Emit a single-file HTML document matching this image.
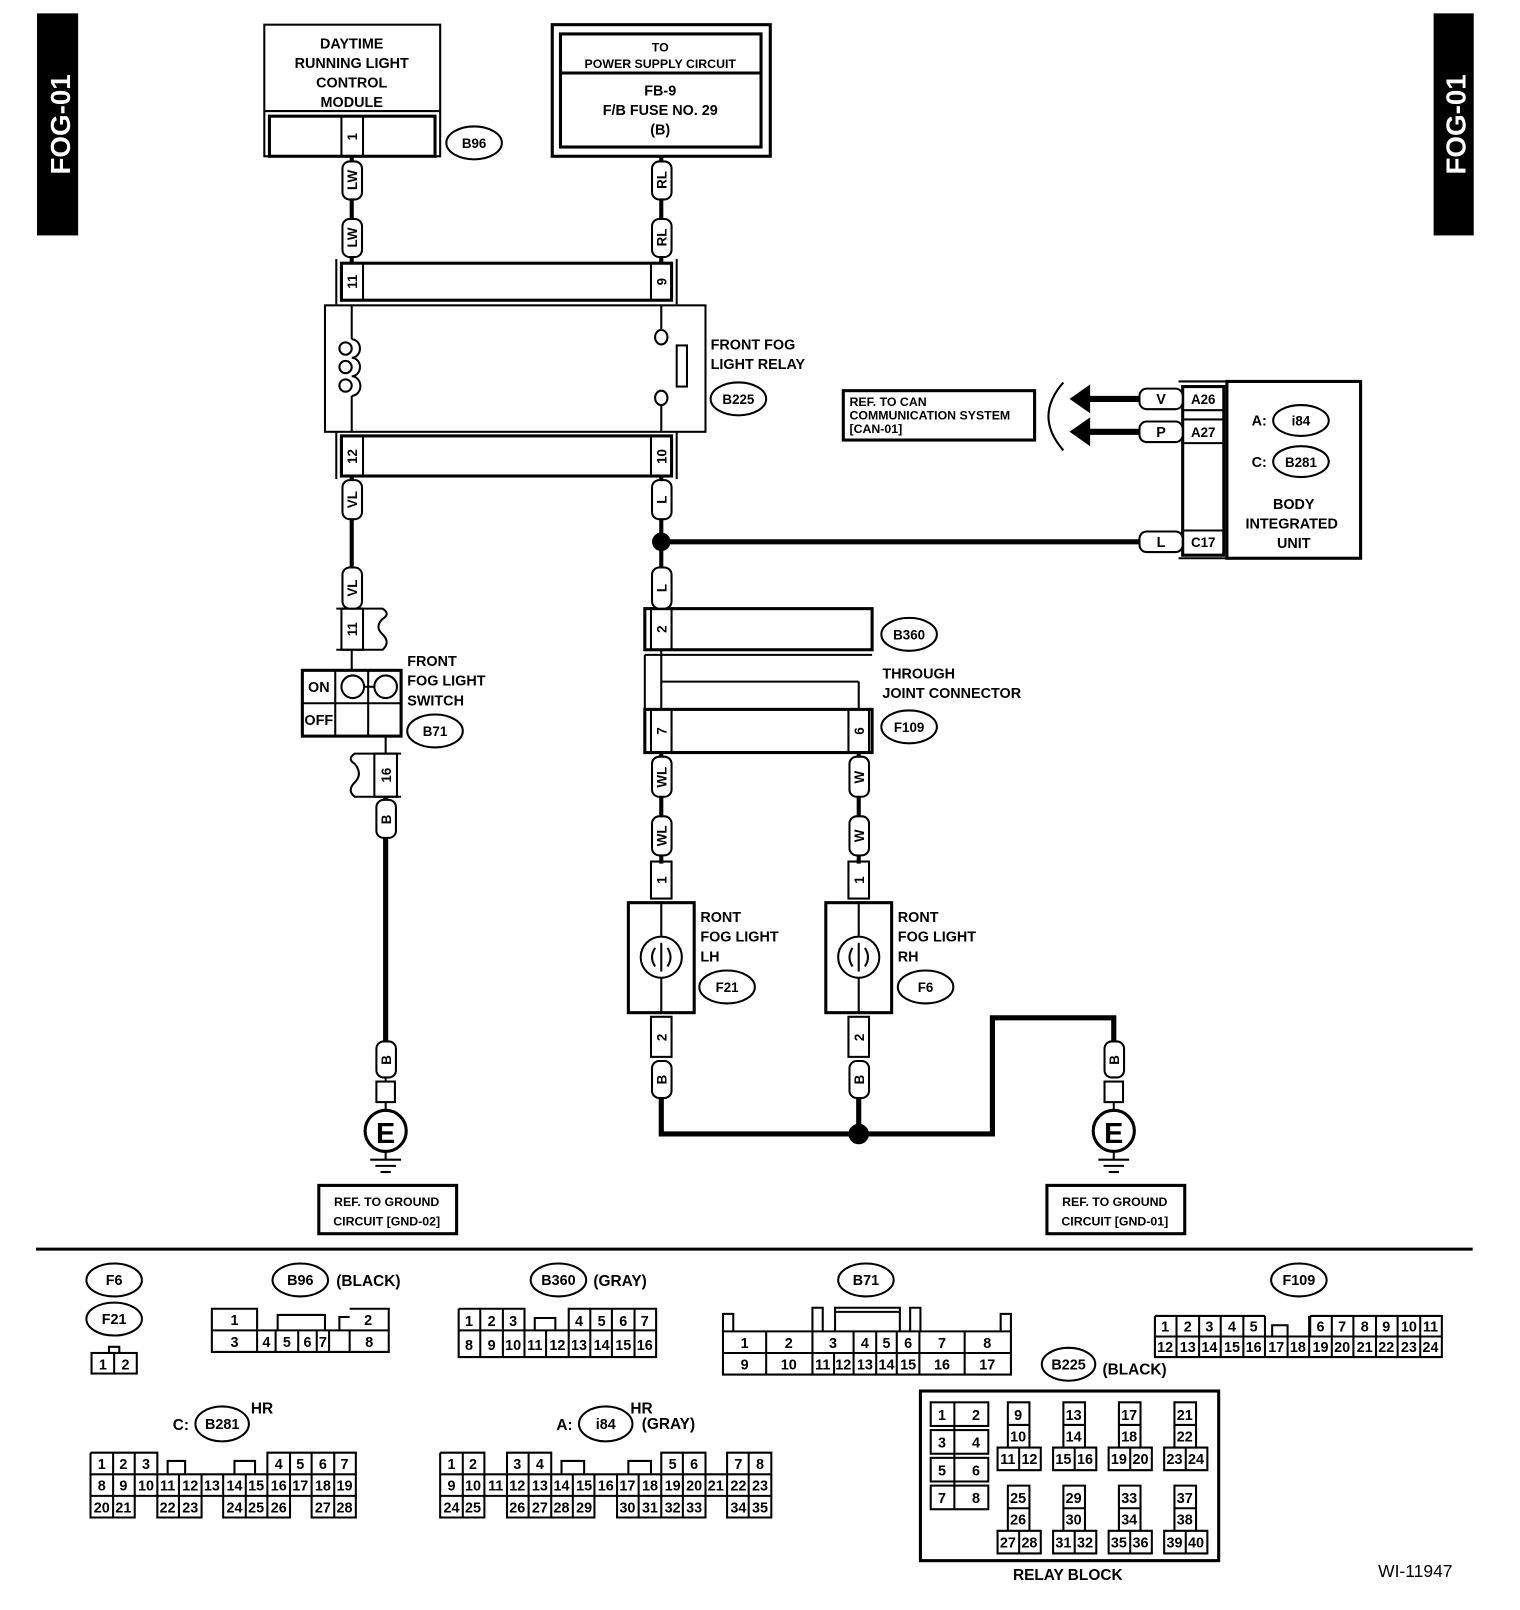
<!DOCTYPE html>
<html><head><meta charset="utf-8"><style>
html,body{margin:0;padding:0;background:#fff}
svg{display:block}
text{font-family:"Liberation Sans",sans-serif;font-weight:bold;fill:#000}
</style></head><body>
<svg width="1520" height="1610" viewBox="0 0 1478 1566" preserveAspectRatio="none" xmlns="http://www.w3.org/2000/svg">
<g fill="none" stroke="#000" stroke-width="2">
<rect x="37" y="14" width="38" height="214" fill="#000"/>
<rect x="1395" y="14" width="37" height="214" fill="#000"/>
</g>
<text transform="rotate(-90 68 121)" x="68" y="121" font-size="27" text-anchor="middle" style="fill:#fff">FOG-01</text>
<text transform="rotate(-90 1425 121)" x="1425" y="121" font-size="27" text-anchor="middle" style="fill:#fff">FOG-01</text>

<g fill="none" stroke="#000" stroke-width="2">
<rect x="257" y="24" width="171" height="128"/>
<line x1="257" y1="108" x2="428" y2="108"/>
<rect x="262" y="113" width="161" height="39" stroke-width="3"/>
<line x1="332" y1="113" x2="332" y2="152"/><line x1="353" y1="113" x2="353" y2="152"/>
<ellipse cx="461" cy="139" rx="27" ry="16"/>
<rect x="537" y="24" width="212" height="128" stroke-width="3"/>
<rect x="545" y="33" width="195" height="110" stroke-width="3"/>
<line x1="545" y1="71" x2="740" y2="71" stroke-width="3"/>
<line x1="342" y1="152" x2="342" y2="256" stroke-width="4"/>
<line x1="643" y1="152" x2="643" y2="256" stroke-width="4"/>
<rect x="332" y="256" width="321" height="36" stroke-width="3"/>
<line x1="327" y1="252" x2="327" y2="296"/><line x1="658" y1="252" x2="658" y2="296"/>
<line x1="353" y1="256" x2="353" y2="292"/><line x1="633" y1="256" x2="633" y2="292"/>
<rect x="316" y="297" width="370" height="123"/>
<line x1="342" y1="297" x2="342" y2="330"/><line x1="342" y1="385" x2="342" y2="420"/>
<path d="M342 330 a8 9 0 0 1 0 18 a8 9 0 0 1 0 18 a8 9 0 0 1 0 19"/>
<circle cx="336" cy="339" r="6"/><circle cx="336" cy="357" r="6"/><circle cx="336" cy="375" r="6"/>
<line x1="643" y1="297" x2="643" y2="322"/><line x1="643" y1="393" x2="643" y2="420"/>
<ellipse cx="643" cy="328" rx="6" ry="7"/><ellipse cx="643" cy="387" rx="6" ry="7"/>
<rect x="658" y="336" width="10" height="40"/>
<ellipse cx="718" cy="388" rx="27" ry="16"/>
<rect x="332" y="424" width="321" height="39" stroke-width="3"/>
<line x1="327" y1="420" x2="327" y2="466"/><line x1="658" y1="420" x2="658" y2="466"/>
<line x1="353" y1="424" x2="353" y2="463"/><line x1="633" y1="424" x2="633" y2="463"/>
<line x1="342" y1="463" x2="342" y2="592" stroke-width="4"/>
<line x1="643" y1="463" x2="643" y2="592" stroke-width="4"/>
<line x1="643" y1="527" x2="1110" y2="527" stroke-width="5"/>
</g>
<circle cx="643" cy="527" r="9" fill="#000"/>

<g fill="none" stroke="#000" stroke-width="2">
<rect x="820" y="380" width="186" height="48" stroke-width="3"/>
<path d="M1034 372 Q1005 405 1034 438"/>
<line x1="1055" y1="388" x2="1110" y2="388" stroke-width="6"/>
<line x1="1055" y1="420" x2="1110" y2="420" stroke-width="6"/>
<rect x="1193" y="371" width="130" height="172" stroke-width="3"/>
<rect x="1150" y="376" width="40" height="164" stroke-width="3"/>
<line x1="1146" y1="371" x2="1193" y2="371"/><line x1="1146" y1="543" x2="1193" y2="543"/>
<line x1="1150" y1="399" x2="1190" y2="399"/><line x1="1150" y1="408" x2="1190" y2="408"/>
<line x1="1150" y1="431" x2="1190" y2="431"/><line x1="1150" y1="516" x2="1190" y2="516"/>
<ellipse cx="1265" cy="409" rx="27" ry="15"/>
<ellipse cx="1265" cy="449" rx="27" ry="15"/>
</g>
<polygon points="1040,388 1060,374 1060,402" fill="#000"/>
<polygon points="1040,420 1060,406 1060,434" fill="#000"/>

<g fill="none" stroke="#000" stroke-width="2">
<path d="M327 592 H372 q8 5 0 10 q-8 8 0 15 q8 8 0 15 H327" />
<rect x="332" y="592" width="21" height="40"/>
<line x1="342" y1="632" x2="342" y2="652"/>
<rect x="294" y="652" width="96" height="64" stroke-width="3"/>
<line x1="294" y1="684" x2="390" y2="684"/>
<line x1="326" y1="652" x2="326" y2="716"/><line x1="358" y1="652" x2="358" y2="716"/>
<circle cx="343" cy="668" r="11"/><circle cx="375" cy="668" r="11"/>
<line x1="354" y1="668" x2="364" y2="668"/>
<ellipse cx="423" cy="711" rx="27" ry="16"/>
<path d="M390 733 H345 q-8 5 0 10 q8 10 0 18 q-8 8 0 14 H390"/>
<rect x="364" y="733" width="22" height="42"/>
<line x1="375" y1="716" x2="375" y2="733"/>
<line x1="375" y1="775" x2="375" y2="1013" stroke-width="5"/>
<rect x="366" y="1052" width="18" height="20"/>
<line x1="375" y1="1048" x2="375" y2="1052"/><line x1="375" y1="1072" x2="375" y2="1080"/>
<circle cx="375" cy="1100" r="20" stroke-width="3"/>
<line x1="375" y1="1120" x2="375" y2="1128"/>
<line x1="360" y1="1128" x2="390" y2="1128"/><line x1="365" y1="1134" x2="385" y2="1134"/><line x1="370" y1="1140" x2="380" y2="1140"/>
<rect x="310" y="1153" width="134" height="47" stroke-width="3"/>
<rect x="627" y="592" width="221" height="40" stroke-width="3"/>
<line x1="633" y1="592" x2="633" y2="632"/><line x1="653" y1="592" x2="653" y2="632"/>
<line x1="627" y1="637" x2="848" y2="637"/><line x1="627" y1="637" x2="627" y2="690"/>
<line x1="643" y1="632" x2="643" y2="690"/>
<line x1="643" y1="663" x2="835" y2="663"/><line x1="835" y1="663" x2="835" y2="690"/>
<ellipse cx="884" cy="617" rx="27" ry="16"/>
<rect x="627" y="690" width="221" height="42" stroke-width="3"/>
<line x1="633" y1="690" x2="633" y2="732"/><line x1="653" y1="690" x2="653" y2="732"/>
<line x1="825" y1="690" x2="825" y2="732"/><line x1="845" y1="690" x2="845" y2="732"/>
<ellipse cx="884" cy="707" rx="27" ry="16"/>
<line x1="643" y1="732" x2="643" y2="840" stroke-width="4"/>
<line x1="835" y1="732" x2="835" y2="840" stroke-width="4"/>
<rect x="633" y="838" width="20" height="36"/><rect x="825" y="838" width="20" height="36"/>
<rect x="611" y="878" width="64" height="107" stroke-width="3"/>
<rect x="803" y="878" width="64" height="107" stroke-width="3"/>
<line x1="643" y1="878" x2="643" y2="911"/><line x1="643" y1="951" x2="643" y2="985"/>
<line x1="835" y1="878" x2="835" y2="911"/><line x1="835" y1="951" x2="835" y2="985"/>
<circle cx="643" cy="931" r="20"/><circle cx="835" cy="931" r="20"/>
<path d="M637 922 q-6 9 0 18 M649 922 q6 9 0 18 M643 917 v28"/>
<path d="M829 922 q-6 9 0 18 M841 922 q6 9 0 18 M835 917 v28"/>
<ellipse cx="707" cy="960" rx="27" ry="16"/><ellipse cx="900" cy="960" rx="27" ry="16"/>
<rect x="633" y="989" width="20" height="39"/><rect x="825" y="989" width="20" height="39"/>
<path d="M643 1068 V1103 H965 V990 H1083 V1013" stroke-width="5"/>
<line x1="835" y1="1068" x2="835" y2="1103" stroke-width="5"/>
<rect x="1074" y="1052" width="18" height="20"/>
<line x1="1083" y1="1072" x2="1083" y2="1080"/>
<circle cx="1083" cy="1100" r="20" stroke-width="3"/>
<line x1="1083" y1="1120" x2="1083" y2="1128"/>
<line x1="1068" y1="1128" x2="1098" y2="1128"/><line x1="1073" y1="1134" x2="1093" y2="1134"/><line x1="1078" y1="1140" x2="1088" y2="1140"/>
<rect x="1018" y="1153" width="134" height="47" stroke-width="3"/>
</g>
<circle cx="835" cy="1103" r="10" fill="#000"/>

<g fill="#fff" stroke="#000" stroke-width="2">
<rect x="333" y="157" width="19" height="37" rx="7"/>
<rect x="333" y="213" width="19" height="37" rx="7"/>
<rect x="634" y="157" width="19" height="37" rx="7"/>
<rect x="634" y="213" width="19" height="37" rx="7"/>
<rect x="333" y="467" width="19" height="38" rx="7"/>
<rect x="634" y="467" width="19" height="38" rx="7"/>
<rect x="333" y="552" width="19" height="40" rx="7"/>
<rect x="634" y="552" width="19" height="40" rx="7"/>
<rect x="366" y="778" width="19" height="37" rx="7"/>
<rect x="366" y="1013" width="19" height="35" rx="7"/>
<rect x="634" y="736" width="19" height="39" rx="7"/>
<rect x="826" y="736" width="19" height="39" rx="7"/>
<rect x="634" y="794" width="19" height="38" rx="7"/>
<rect x="826" y="794" width="19" height="38" rx="7"/>
<rect x="634" y="1032" width="19" height="36" rx="7"/>
<rect x="826" y="1032" width="19" height="36" rx="7"/>
<rect x="1074" y="1013" width="19" height="35" rx="7"/>
<rect x="1108" y="378" width="42" height="20" rx="7"/>
<rect x="1108" y="410" width="42" height="20" rx="7"/>
<rect x="1108" y="517" width="42" height="20" rx="7"/>
</g>

<g font-size="14" text-anchor="middle">
<text x="342" y="47">DAYTIME</text>
<text x="342" y="66">RUNNING LIGHT</text>
<text x="342" y="85">CONTROL</text>
<text x="342" y="104">MODULE</text>
<text x="461" y="144" font-size="13">B96</text>
<text x="642" y="50" font-size="12">TO</text>
<text x="642" y="66" font-size="12">POWER SUPPLY CIRCUIT</text>
<text x="642" y="93">FB-9</text>
<text x="642" y="112">F/B FUSE NO. 29</text>
<text x="642" y="131">(B)</text>
<text x="718" y="393" font-size="13">B225</text>
<text x="884" y="622" font-size="13">B360</text>
<text x="884" y="712" font-size="13">F109</text>
<text x="423" y="716" font-size="13">B71</text>
<text x="707" y="965" font-size="13">F21</text>
<text x="900" y="965" font-size="13">F6</text>
<text x="375" y="1112" font-size="28">E</text>
<text x="1083" y="1112" font-size="28">E</text>
<text x="376" y="1173" font-size="12">REF. TO GROUND</text>
<text x="376" y="1192" font-size="12">CIRCUIT [GND-02]</text>
<text x="1084" y="1173" font-size="12">REF. TO GROUND</text>
<text x="1084" y="1192" font-size="12">CIRCUIT [GND-01]</text>
<text x="1129" y="393">V</text><text x="1129" y="425">P</text><text x="1129" y="532">L</text>
<text x="1170" y="393" font-size="13">A26</text><text x="1170" y="425" font-size="13">A27</text><text x="1170" y="532" font-size="13">C17</text>
<text x="1265" y="414" font-size="13">i84</text><text x="1265" y="454" font-size="13">B281</text>
<text x="1258" y="495">BODY</text><text x="1256" y="514">INTEGRATED</text><text x="1258" y="533">UNIT</text>
<text x="310" y="673">ON</text><text x="310" y="705">OFF</text>
</g>
<g font-size="14">
<text x="1217" y="414">A:</text><text x="1217" y="454">C:</text>
<text x="691" y="340">FRONT FOG</text><text x="691" y="359">LIGHT RELAY</text>
<text x="826" y="395" font-size="12">REF. TO CAN</text>
<text x="826" y="408" font-size="12">COMMUNICATION SYSTEM</text>
<text x="826" y="421" font-size="12">[CAN-01]</text>
<text x="396" y="648">FRONT</text><text x="396" y="667">FOG LIGHT</text><text x="396" y="686">SWITCH</text>
<text x="858" y="660">THROUGH</text><text x="858" y="679">JOINT CONNECTOR</text>
<text x="681" y="897">RONT</text><text x="681" y="916">FOG LIGHT</text><text x="681" y="935">LH</text>
<text x="873" y="897">RONT</text><text x="873" y="916">FOG LIGHT</text><text x="873" y="935">RH</text>
</g>
<g font-size="13" text-anchor="middle">
<text transform="rotate(-90 347 175)" x="347" y="175">LW</text>
<text transform="rotate(-90 347 231)" x="347" y="231">LW</text>
<text transform="rotate(-90 648 175)" x="648" y="175">RL</text>
<text transform="rotate(-90 648 231)" x="648" y="231">RL</text>
<text transform="rotate(-90 347 133)" x="347" y="133">1</text>
<text transform="rotate(-90 347 274)" x="347" y="274">11</text>
<text transform="rotate(-90 648 274)" x="648" y="274">9</text>
<text transform="rotate(-90 347 444)" x="347" y="444">12</text>
<text transform="rotate(-90 648 444)" x="648" y="444">10</text>
<text transform="rotate(-90 347 486)" x="347" y="486">VL</text>
<text transform="rotate(-90 648 486)" x="648" y="486">L</text>
<text transform="rotate(-90 347 572)" x="347" y="572">VL</text>
<text transform="rotate(-90 648 572)" x="648" y="572">L</text>
<text transform="rotate(-90 347 612)" x="347" y="612">11</text>
<text transform="rotate(-90 380 754)" x="380" y="754">16</text>
<text transform="rotate(-90 380 797)" x="380" y="797">B</text>
<text transform="rotate(-90 380 1031)" x="380" y="1031">B</text>
<text transform="rotate(-90 648 612)" x="648" y="612">2</text>
<text transform="rotate(-90 648 711)" x="648" y="711">7</text>
<text transform="rotate(-90 840 711)" x="840" y="711">6</text>
<text transform="rotate(-90 648 756)" x="648" y="756">WL</text>
<text transform="rotate(-90 840 756)" x="840" y="756">W</text>
<text transform="rotate(-90 648 813)" x="648" y="813">WL</text>
<text transform="rotate(-90 840 813)" x="840" y="813">W</text>
<text transform="rotate(-90 648 856)" x="648" y="856">1</text>
<text transform="rotate(-90 840 856)" x="840" y="856">1</text>
<text transform="rotate(-90 648 1009)" x="648" y="1009">2</text>
<text transform="rotate(-90 840 1009)" x="840" y="1009">2</text>
<text transform="rotate(-90 648 1050)" x="648" y="1050">B</text>
<text transform="rotate(-90 840 1050)" x="840" y="1050">B</text>
<text transform="rotate(-90 1088 1031)" x="1088" y="1031">B</text>
</g>

<line x1="35" y1="1215" x2="1432" y2="1215" stroke="#000" stroke-width="3"/>

<g fill="none" stroke="#000" stroke-width="2">
<ellipse cx="111" cy="1245" rx="27" ry="16"/><ellipse cx="111" cy="1283" rx="27" ry="16"/>
<rect x="89" y="1316" width="44" height="20"/><line x1="111" y1="1316" x2="111" y2="1336"/><rect x="106" y="1310" width="10" height="6"/>
<ellipse cx="292" cy="1245" rx="27" ry="16"/>
<path d="M206 1273 H250 V1294 H206 Z M206 1294 H378 V1315 H206 Z M340 1273 H378 V1294 M270 1294 V1279 H316 V1294 M330 1294 V1281 H340"/>
<path d="M250 1294 V1315 M268 1294 V1315 M290 1294 V1315 M308 1294 V1315 M320 1294 V1315 M340 1294 V1315"/>
<ellipse cx="543" cy="1245" rx="27" ry="16"/>
<path d="M446 1273 H510 V1294 M553 1294 V1273 H638 V1320 H446 V1273 M446 1294 H638 M520 1294 V1282 H540 V1294"/>
<path d="M467 1273 V1320 M489 1273 V1320 M510 1294 V1320 M531 1294 V1320 M553 1294 V1320 M574 1273 V1320 M595 1273 V1320 M617 1273 V1320"/>
<ellipse cx="842" cy="1245" rx="27" ry="16"/>
<path d="M703 1295 H983 V1337 H703 Z M703 1316 H983 M703 1295 V1278 H713 V1295 M973 1295 V1278 H983 V1295 M790 1295 V1272 H800 V1295 M885 1295 V1272 H895 V1295 M812 1295 V1272 H875 V1295 M812 1276 H875"/>
<path d="M745 1295 V1337 M790 1295 V1337 M830 1295 V1337 M852 1295 V1337 M872 1295 V1337 M894 1295 V1337 M938 1295 V1337 M811 1316 V1337"/>
<ellipse cx="1263" cy="1245" rx="27" ry="16"/>
<path d="M1123 1280 H1230 M1274 1280 H1402 V1320 H1123 V1280 M1123 1300 H1402 M1230 1280 V1300 M1274 1280 V1300 M1237 1300 V1289 H1252 V1300"/>
<path d="M1144 1280 V1320 M1166 1280 V1320 M1187 1280 V1320 M1209 1280 V1320 M1230 1300 V1320 M1252 1300 V1320 M1273 1280 V1320 M1295 1280 V1320 M1316 1280 V1320 M1338 1280 V1320 M1359 1280 V1320 M1381 1280 V1320"/>
<ellipse cx="1039" cy="1327" rx="26" ry="16"/>
<rect x="895" y="1353" width="290" height="165" stroke-width="3"/>
<ellipse cx="216" cy="1385" rx="26" ry="17"/>
<ellipse cx="589" cy="1385" rx="26" ry="17"/>
<path d="M88 1413 H153 V1434 M260 1434 V1413 H346 V1455 M88 1413 V1476 H131 V1455 M153 1455 V1476 H196 V1455 M217 1455 V1476 H282 V1455 M303 1455 V1476 H346 V1455 M88 1434 H346 M88 1455 H346 M163 1434 V1421 H180 V1434 M228 1434 V1421 H248 V1434"/>
<path d="M110 1413 V1476 M131 1413 V1455 M153 1434 V1455 M174 1434 V1476 M196 1434 V1455 M217 1434 V1455 M239 1434 V1476 M260 1434 V1476 M282 1413 V1455 M303 1413 V1455 M325 1413 V1476"/>
<path d="M428 1413 H471 V1434 M493 1434 V1413 H536 V1434 M643 1434 V1413 H686 V1434 M707 1434 V1413 H750 V1476 H707 V1455 M428 1413 V1476 H471 V1455 M493 1455 V1476 H578 V1455 M600 1455 V1476 H686 V1455 M428 1434 H750 M428 1455 H750 M546 1434 V1421 H568 V1434 M611 1434 V1421 H633 V1434"/>
<path d="M450 1413 V1476 M471 1434 V1455 M493 1434 V1455 M514 1413 V1476 M536 1434 V1476 M557 1434 V1476 M578 1434 V1455 M600 1434 V1455 M621 1434 V1476 M643 1434 V1476 M664 1413 V1476 M686 1434 V1455 M707 1434 V1455 M728 1413 V1476"/>
</g>
<g fill="none" stroke="#000" stroke-width="2">
<rect x="905" y="1364" width="56" height="23"/><rect x="905" y="1391" width="56" height="23"/><rect x="905" y="1418" width="56" height="23"/><rect x="905" y="1445" width="56" height="23"/>
<line x1="928" y1="1364" x2="928" y2="1468"/>
<path d="M980 1364 h21 v44 h-21 z M980 1386 h21 M970 1408 h42 v22 h-42 z M991 1408 v22"/>
<path d="M1034 1364 h21 v44 h-21 z M1034 1386 h21 M1024 1408 h42 v22 h-42 z M1045 1408 v22"/>
<path d="M1088 1364 h21 v44 h-21 z M1088 1386 h21 M1078 1408 h42 v22 h-42 z M1099 1408 v22"/>
<path d="M1142 1364 h21 v44 h-21 z M1142 1386 h21 M1132 1408 h42 v22 h-42 z M1153 1408 v22"/>
<path d="M980 1445 h21 v44 h-21 z M980 1467 h21 M970 1489 h42 v22 h-42 z M991 1489 v22"/>
<path d="M1034 1445 h21 v44 h-21 z M1034 1467 h21 M1024 1489 h42 v22 h-42 z M1045 1489 v22"/>
<path d="M1088 1445 h21 v44 h-21 z M1088 1467 h21 M1078 1489 h42 v22 h-42 z M1099 1489 v22"/>
<path d="M1142 1445 h21 v44 h-21 z M1142 1467 h21 M1132 1489 h42 v22 h-42 z M1153 1489 v22"/>
</g>
<g font-size="14" text-anchor="middle" style="font-weight:normal">
<text x="111" y="1250" font-weight="bold">F6</text><text x="111" y="1288" font-weight="bold">F21</text>
<text x="100" y="1332">1</text><text x="122" y="1332">2</text>
<text x="292" y="1250" font-weight="bold">B96</text>
<text x="228" y="1289">1</text><text x="358" y="1289">2</text>
<text x="228" y="1310">3</text><text x="259" y="1310">4</text><text x="279" y="1310">5</text><text x="299" y="1310">6</text><text x="314" y="1310">7</text><text x="359" y="1310">8</text>
<text x="543" y="1250" font-weight="bold">B360</text>
<text x="456" y="1290">1</text><text x="478" y="1290">2</text><text x="499" y="1290">3</text><text x="563" y="1290">4</text><text x="585" y="1290">5</text><text x="606" y="1290">6</text><text x="627" y="1290">7</text>
<text x="456" y="1313">8</text><text x="478" y="1313">9</text><text x="499" y="1313">10</text><text x="520" y="1313">11</text><text x="542" y="1313">12</text><text x="563" y="1313">13</text><text x="585" y="1313">14</text><text x="606" y="1313">15</text><text x="627" y="1313">16</text>
<text x="842" y="1250" font-weight="bold">B71</text>
<text x="724" y="1311">1</text><text x="767" y="1311">2</text><text x="810" y="1311">3</text><text x="841" y="1311">4</text><text x="862" y="1311">5</text><text x="883" y="1311">6</text><text x="916" y="1311">7</text><text x="960" y="1311">8</text>
<text x="724" y="1332">9</text><text x="767" y="1332">10</text><text x="800" y="1332">11</text><text x="820" y="1332">12</text><text x="841" y="1332">13</text><text x="862" y="1332">14</text><text x="883" y="1332">15</text><text x="916" y="1332">16</text><text x="960" y="1332">17</text>
<text x="1263" y="1250" font-weight="bold">F109</text>
<text x="1133" y="1295">1</text><text x="1155" y="1295">2</text><text x="1176" y="1295">3</text><text x="1198" y="1295">4</text><text x="1219" y="1295">5</text><text x="1284" y="1295">6</text><text x="1305" y="1295">7</text><text x="1327" y="1295">8</text><text x="1348" y="1295">9</text><text x="1370" y="1295">10</text><text x="1391" y="1295">11</text>
<text x="1133" y="1315">12</text><text x="1155" y="1315">13</text><text x="1176" y="1315">14</text><text x="1198" y="1315">15</text><text x="1219" y="1315">16</text><text x="1241" y="1315">17</text><text x="1262" y="1315">18</text><text x="1284" y="1315">19</text><text x="1305" y="1315">20</text><text x="1327" y="1315">21</text><text x="1348" y="1315">22</text><text x="1370" y="1315">23</text><text x="1391" y="1315">24</text>
<text x="1039" y="1332" font-weight="bold">B225</text>
<text x="216" y="1390" font-weight="bold">B281</text>
<text x="589" y="1390" font-weight="bold">i84</text>
<text x="99" y="1429">1</text><text x="120" y="1429">2</text><text x="142" y="1429">3</text><text x="271" y="1429">4</text><text x="292" y="1429">5</text><text x="314" y="1429">6</text><text x="335" y="1429">7</text>
<text x="99" y="1450">8</text><text x="120" y="1450">9</text><text x="142" y="1450">10</text><text x="163" y="1450">11</text><text x="185" y="1450">12</text><text x="206" y="1450">13</text><text x="228" y="1450">14</text><text x="249" y="1450">15</text><text x="271" y="1450">16</text><text x="292" y="1450">17</text><text x="314" y="1450">18</text><text x="335" y="1450">19</text>
<text x="99" y="1471">20</text><text x="120" y="1471">21</text><text x="163" y="1471">22</text><text x="185" y="1471">23</text><text x="228" y="1471">24</text><text x="249" y="1471">25</text><text x="271" y="1471">26</text><text x="314" y="1471">27</text><text x="335" y="1471">28</text>
<text x="439" y="1429">1</text><text x="460" y="1429">2</text><text x="503" y="1429">3</text><text x="525" y="1429">4</text><text x="654" y="1429">5</text><text x="675" y="1429">6</text><text x="718" y="1429">7</text><text x="739" y="1429">8</text>
<text x="439" y="1450">9</text><text x="460" y="1450">10</text><text x="482" y="1450">11</text><text x="503" y="1450">12</text><text x="525" y="1450">13</text><text x="546" y="1450">14</text><text x="568" y="1450">15</text><text x="589" y="1450">16</text><text x="610" y="1450">17</text><text x="632" y="1450">18</text><text x="654" y="1450">19</text><text x="675" y="1450">20</text><text x="696" y="1450">21</text><text x="718" y="1450">22</text><text x="739" y="1450">23</text>
<text x="439" y="1471">24</text><text x="460" y="1471">25</text><text x="503" y="1471">26</text><text x="525" y="1471">27</text><text x="546" y="1471">28</text><text x="568" y="1471">29</text><text x="610" y="1471">30</text><text x="632" y="1471">31</text><text x="654" y="1471">32</text><text x="675" y="1471">33</text><text x="718" y="1471">34</text><text x="739" y="1471">35</text>
<text x="916" y="1381">1</text><text x="949" y="1381">2</text><text x="916" y="1408">3</text><text x="949" y="1408">4</text><text x="916" y="1435">5</text><text x="949" y="1435">6</text><text x="916" y="1462">7</text><text x="949" y="1462">8</text>
<text x="990" y="1381">9</text><text x="990" y="1402">10</text><text x="980" y="1424">11</text><text x="1001" y="1424">12</text>
<text x="1044" y="1381">13</text><text x="1044" y="1402">14</text><text x="1034" y="1424">15</text><text x="1055" y="1424">16</text>
<text x="1098" y="1381">17</text><text x="1098" y="1402">18</text><text x="1088" y="1424">19</text><text x="1109" y="1424">20</text>
<text x="1152" y="1381">21</text><text x="1152" y="1402">22</text><text x="1142" y="1424">23</text><text x="1163" y="1424">24</text>
<text x="990" y="1462">25</text><text x="990" y="1483">26</text><text x="980" y="1505">27</text><text x="1001" y="1505">28</text>
<text x="1044" y="1462">29</text><text x="1044" y="1483">30</text><text x="1034" y="1505">31</text><text x="1055" y="1505">32</text>
<text x="1098" y="1462">33</text><text x="1098" y="1483">34</text><text x="1088" y="1505">35</text><text x="1109" y="1505">36</text>
<text x="1152" y="1462">37</text><text x="1152" y="1483">38</text><text x="1142" y="1505">39</text><text x="1163" y="1505">40</text>
</g>
<g font-size="15">
<text x="327" y="1251">(BLACK)</text>
<text x="577" y="1251">(GRAY)</text>
<text x="1072" y="1337">(BLACK)</text>
<text x="168" y="1391">C:</text><text x="244" y="1375">HR</text>
<text x="541" y="1391">A:</text><text x="613" y="1375">HR</text><text x="624" y="1390">(GRAY)</text>
<text x="985" y="1537">RELAY BLOCK</text>
<text x="1340" y="1534" style="font-weight:normal" font-size="17">WI-11947</text>
</g>
</svg>
</body></html>
